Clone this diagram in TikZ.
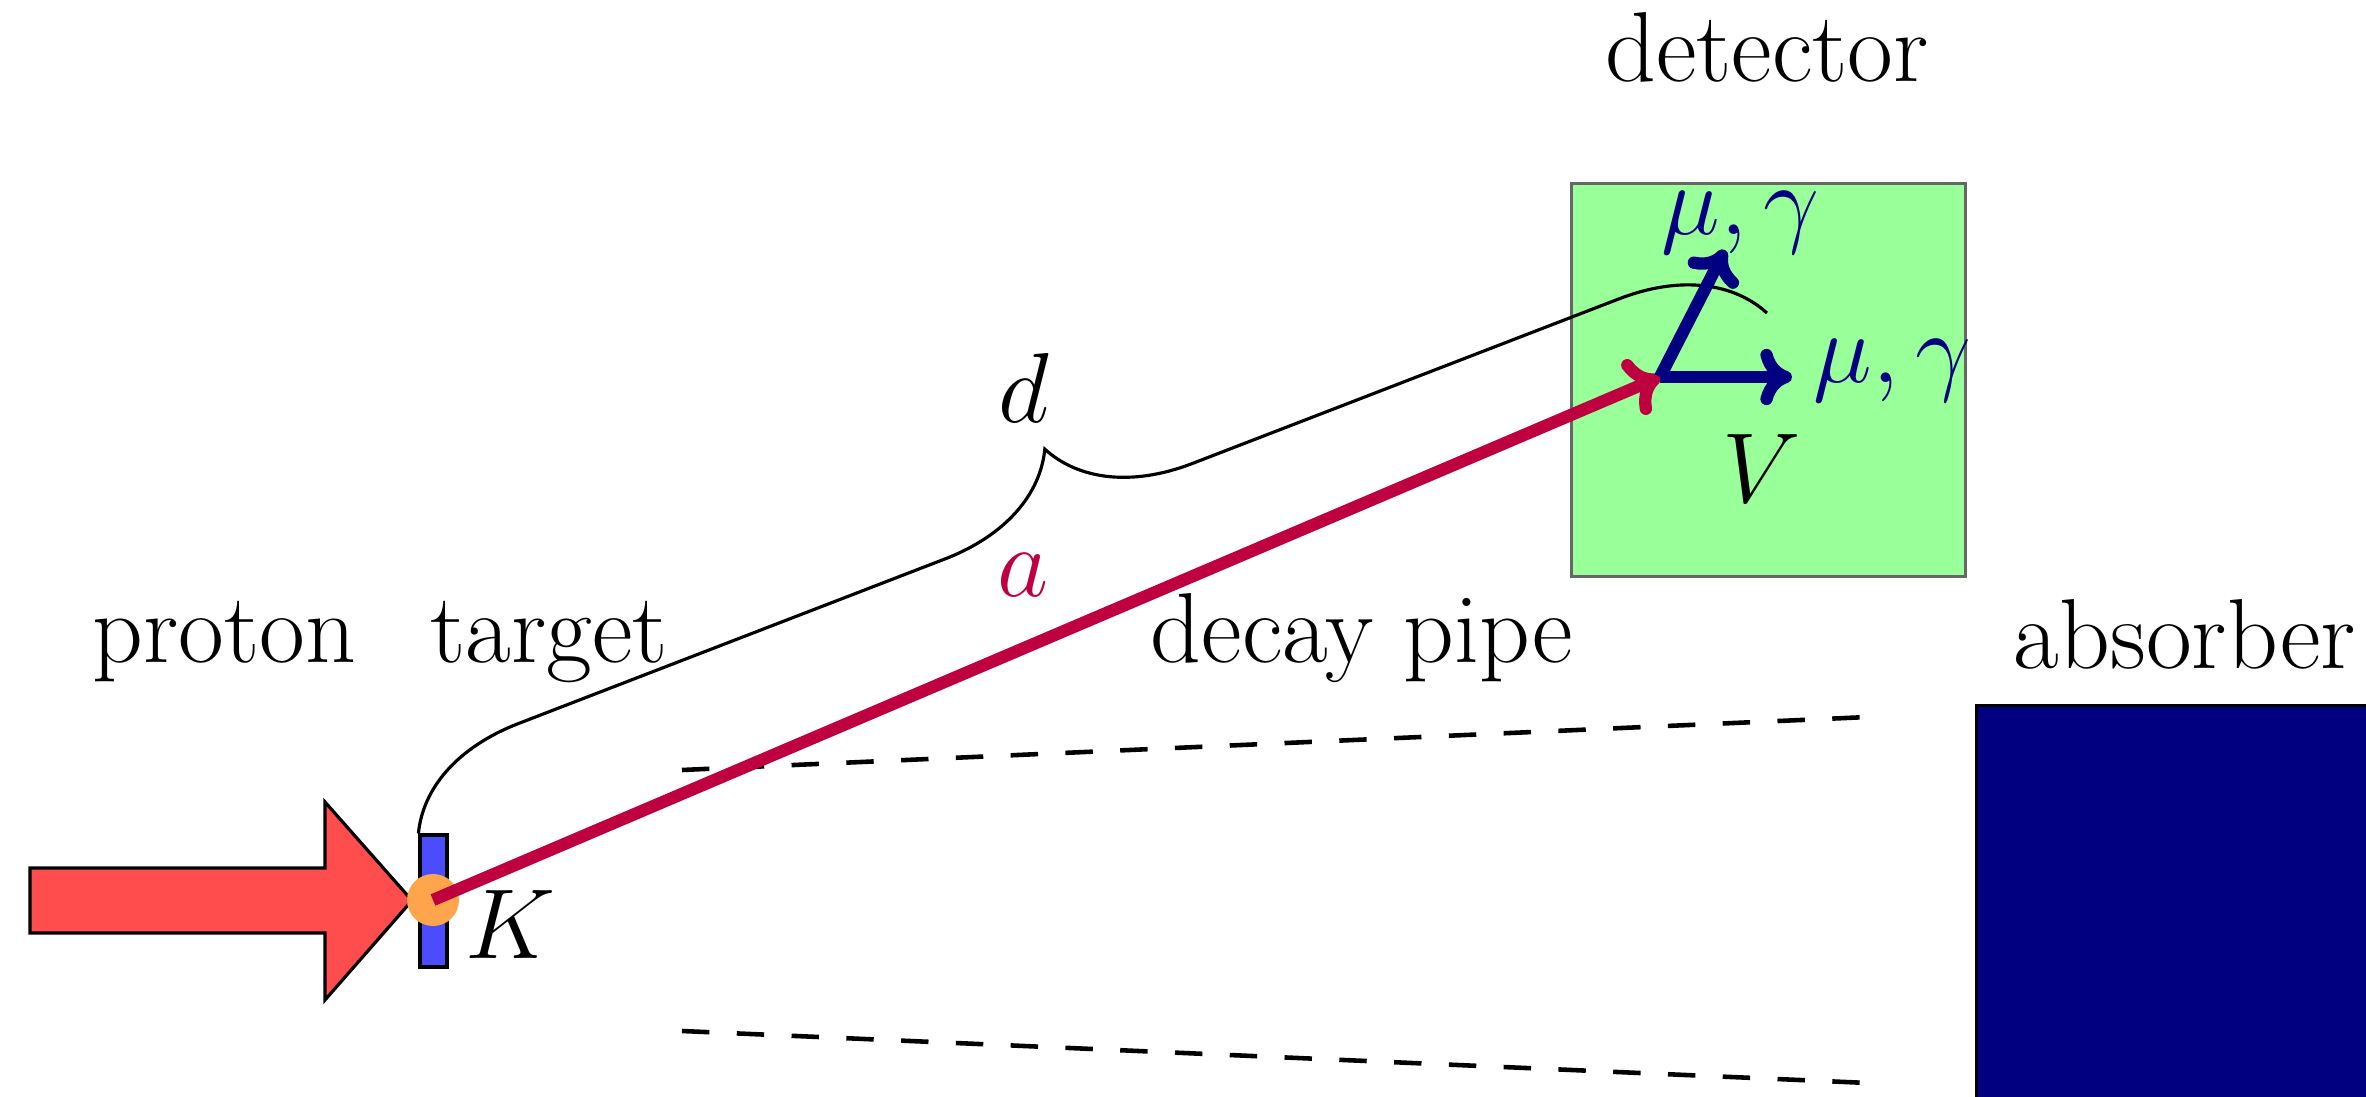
\RequirePackage{fix-cm}
\documentclass[tikz,border=0pt]{standalone}
\usetikzlibrary{arrows.meta,decorations.pathreplacing}
\definecolor{navy}{rgb}{0,0,0.5}
\begin{document}
\begin{tikzpicture}[
  lbl/.style={inner sep=0pt, anchor=base, font=\fontsize{28.3pt}{34pt}\selectfont},
  thinline/.style={line width=0.9pt},
  pipe/.style={line width=1.3pt, dash pattern=on 7.8pt off 7.8pt},
  redarr/.style={line width=3.5pt, color=purple, -{Computer Modern Rightarrow[length=9pt,width=17pt,round]}},
  bluearr/.style={line width=3.5pt, color=navy, -{Computer Modern Rightarrow[length=9pt,width=16pt,round]}}
]
\useasboundingbox (0,0) rectangle (23.66,10.96);
\clip (0,0) rectangle (23.66,10.96);

% detector and absorber
\node[draw=black!60, thinline, fill=green!40, minimum width=3.94cm, minimum height=3.93cm, inner sep=0pt, anchor=north west] (det) at (15.70,9.14) {};
\node[draw=black, thinline, fill=navy, minimum width=4.4cm, minimum height=4.4cm, inner sep=0pt, anchor=north west] (absb) at (19.75,3.92) {};

% decay pipe
\coordinate (pu1) at (6.82,3.26);
\coordinate (pu2) at (18.68,3.79);
\coordinate (pl1) at (6.82,0.65);
\coordinate (pl2) at (18.68,0.13);
\draw[pipe] (pu1) -- (pu2);
\draw[pipe] (pl1) -- (pl2);

% proton beam
\draw[thinline, fill=red!70] (0.30,2.28) -- (3.25,2.28) -- (3.25,2.94) -- (4.12,1.955)
  -- (3.25,0.96) -- (3.25,1.63) -- (0.30,1.63) -- cycle;

% target and kaon
\node[draw=black, thinline, fill=blue!70, minimum width=0.27cm, minimum height=1.32cm, inner sep=0pt] (tgt) at (4.335,1.95) {};
\node[circle, fill=orange!70, minimum size=0.52cm, inner sep=0pt] (kpt) at (4.33,1.96) {};

% brace
\coordinate (bend) at (17.67,7.83);
\draw[thinline, decorate, decoration={brace, amplitude=1.33cm}] (tgt.north west) -- (bend);

% tracks
\coordinate (V) at (16.60,7.19);
\coordinate (m1) at (17.25,8.46);
\coordinate (m2) at (17.92,7.19);
\draw[redarr] (kpt.center) -- (V);
\draw[bluearr] (V) -- (m1);
\draw[bluearr] (V) -- (m2);

% labels
\node[lbl] (tproton) at (2.245,4.34) {proton};
\node[lbl] (ttarget) at (5.49,4.34) {target};
\node[lbl] (tpipe) at (13.62,4.34) {decay pipe};
\node[lbl] (tabs) at (21.85,4.28) {absorber};
\node[lbl] (tdet) at (17.67,10.14) {detector};
\node[lbl] (td) at (10.24,6.73) {$d$};
\node[lbl, text=purple] (ta) at (10.23,4.99) {$a$};
\node[lbl] (tK) at (5.10,1.38) {$K$};
\node[lbl] (tV) at (17.62,5.94) {$V$};
\node[lbl, text=navy] (tmu1) at (17.41,8.62) {$\mu,\gamma$};
\node[lbl, text=navy] (tmu2) at (18.93,7.14) {$\mu,\gamma$};
\end{tikzpicture}
\end{document}
